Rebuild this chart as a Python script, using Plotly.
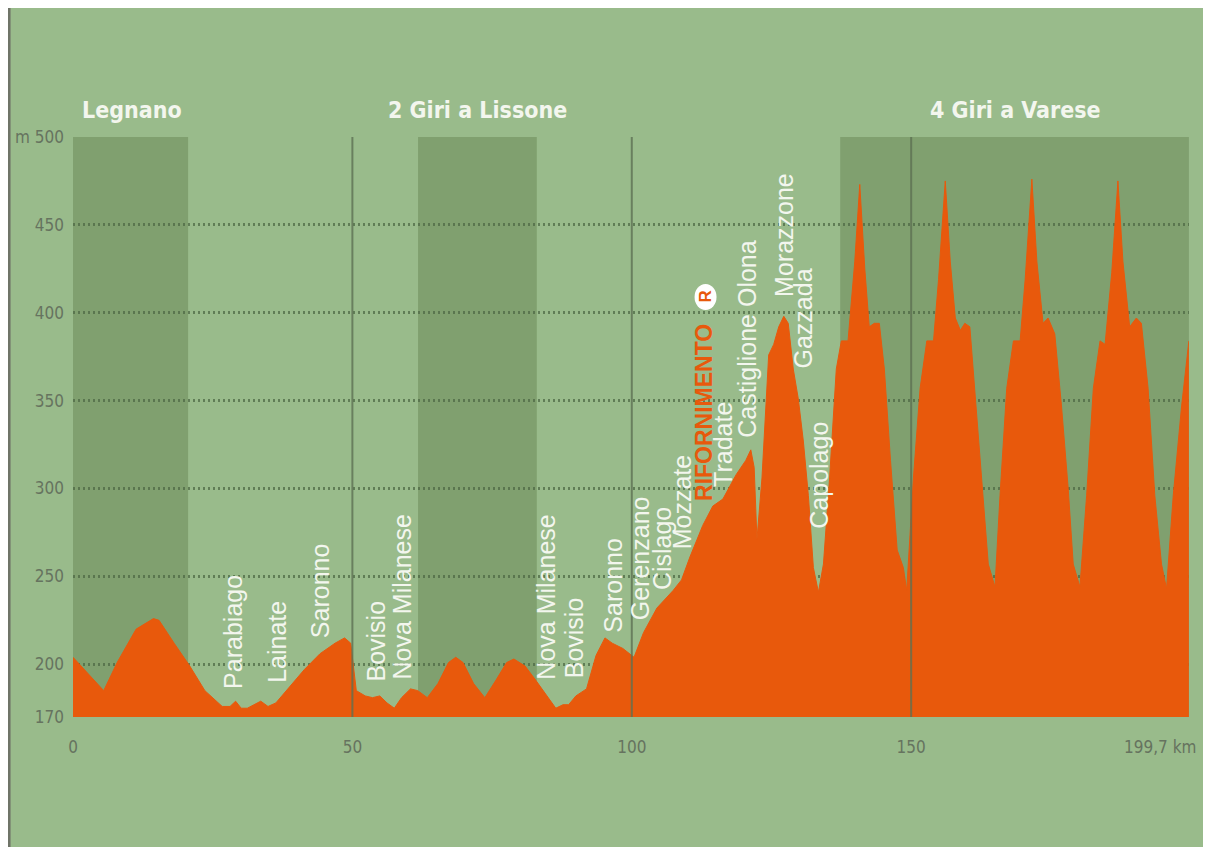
import plotly.graph_objects as go

# ---------------- data ----------------
km = [0, 5.5, 7.9, 11.3, 14.4, 15.4, 18.1, 20.9, 23.6, 25.7, 26.7, 28.1, 29.1, 30.1, 31.2,
      33.6, 34.9, 36.3, 38.7, 41.4, 44.2, 46.9, 48.6, 49.7, 50.7, 52.3, 53.6, 54.9, 56.2,
      57.5, 58.8, 60.4, 61.7, 63.4, 65.3, 67.2, 68.5, 69.8, 71.7, 73.7, 75.7, 77.6, 78.9,
      80.9, 82.8, 84.8, 86.4, 87.7, 88.7, 90.0, 91.9, 93.6, 95.2, 96.5, 98.4, 100.4, 102.1,
      104.5, 107.4, 108.9, 110.4, 112.7, 114.5, 116.3, 118.7, 120.4, 121.3, 121.9, 122.4,
      123.3, 124.5, 125.4, 126.3, 127.2, 128.0, 128.9, 129.8, 130.7, 131.6, 132.5, 133.4,
      134.3, 135.4, 136.6, 137.5, 138.7, 139.9, 140.8, 141.7, 142.5, 143.4, 144.3, 145.2,
      146.3, 147.5, 148.6, 149.2, 150.4, 151.6, 152.8, 154.0, 154.9, 156.1, 157.0, 157.9,
      158.8, 159.6, 160.5, 161.4, 162.6, 163.8, 165.0, 165.9, 167.1, 168.3, 169.5, 170.4,
      171.6, 172.5, 173.6, 174.5, 175.7, 176.9, 178.1, 179.0, 180.2, 181.4, 182.6, 183.8,
      184.7, 185.9, 187.0, 187.9, 189.1, 190.3, 191.2, 192.4, 193.6, 194.8, 195.7, 196.9,
      198.4, 199.7]
elev = [204, 185, 201, 220, 226, 225, 212, 199, 185, 179, 176, 176, 179, 175, 175,
        179, 176, 178, 187, 197, 206, 212, 215, 212, 185, 182, 181, 182, 178,
        175, 181, 186, 185, 181, 189, 201, 204, 201, 189, 181, 191, 201, 203,
        199, 191, 182, 175, 177, 177, 182, 186, 205, 215, 212, 209, 204, 218,
        232, 242, 248, 261, 279, 290, 294, 308, 316, 322, 312, 271,
        306, 376, 382, 392, 398, 394, 368, 351, 327, 296, 255, 241,
        257, 306, 368, 384, 384, 429, 473, 425, 392, 394, 394, 368,
        316, 265, 255, 242, 306, 357, 384, 384, 419, 475, 429, 397,
        390, 394, 392, 357, 306, 257, 244, 296, 357, 384, 384, 419,
        476, 429, 394, 397, 388, 347, 300, 257, 244, 296, 357, 384,
        382, 423, 475, 429, 392, 397, 394, 357, 296, 257, 243, 296,
        347, 384]

x_tickvals = [0, 50, 100, 150, 199.7]
x_ticktext = ["0", "50", "100", "150", "199,7 km"]
y_tickvals = [170, 200, 250, 300, 350, 400, 450, 500]
y_ticktext = ["170", "200", "250", "300", "350", "400", "450", "m 500"]

section_names = ["Legnano", "2 Giri a Lissone", "4 Giri a Varese"]
section_label_km = [10.6, 72.3, 168.6]
section_bands = [(0, 20.6), (61.75, 83.0), (137.3, 199.7)]
km_dividers = [50, 100, 150]

place_names = ["Parabiago", "Lainate", "Saronno", "Bovisio", "Nova Milanese",
               "Nova Milanese", "Bovisio", "Saronno", "Gerenzano", "Cislago", "Mozzate",
               "Tradate", "Castiglione Olona", "Morazzone", "Gazzada", "Capolago"]
place_km = [28.5, 36.6, 44.2, 54.3, 58.9, 84.7, 89.6, 96.6, 101.5, 105.3, 108.9,
            116.3, 120.6, 127.1, 130.6, 133.6]
place_base = [185, 188, 214, 189, 190, 190, 191, 217, 224, 241, 264,
              300, 328, 408, 367, 276]

feed_name = "RIFORNIMENTO"
feed_km = 112.9
feed_base = 292
feed_mark_elev = 409

# ---------------- style ----------------
BG = "#99BB8B"
BAND = "#80A06F"
ORANGE = "#E8590C"
WHITE = "#F3F6EE"
TICK = "#66735F"
COND = "DejaVu Sans Condensed, Liberation Sans Narrow, Arial Narrow, Liberation Sans, sans-serif"

fig = go.Figure()
fig.add_trace(go.Scatter(
    x=km, y=elev, mode="lines", fill="tozeroy",
    line=dict(color=ORANGE, width=1), fillcolor=ORANGE,
    hoverinfo="x+y", showlegend=False))

shapes = []
for a, b in section_bands:
    shapes.append(dict(type="rect", xref="x", yref="y", x0=a, x1=b, y0=170, y1=500,
                       fillcolor=BAND, line=dict(width=0), layer="below"))
for d in km_dividers:
    shapes.append(dict(type="line", xref="x", yref="y", x0=d, x1=d, y0=170, y1=500,
                       line=dict(color="rgba(92,112,82,0.8)", width=2), layer="above"))
# grey border on the left of the card
shapes.append(dict(type="line", xref="paper", yref="paper", x0=-0.0573, x1=-0.0573,
                   y0=-0.25, y1=1.25, line=dict(color="#6F7468", width=3)))
# feed zone marker circle
shapes.append(dict(type="circle", xref="x", yref="y", xsizemode="pixel", ysizemode="pixel",
                   xanchor=feed_km + 0.3, yanchor=feed_mark_elev, x0=-11, x1=11, y0=-13, y1=13,
                   fillcolor="white", line=dict(width=0), layer="above"))

annotations = []
for name, k in zip(section_names, section_label_km):
    annotations.append(dict(x=k, y=1.047, xref="x", yref="paper", text=name, showarrow=False,
                            xanchor="center", yanchor="middle",
                            font=dict(family=COND, size=23, color=WHITE, weight="bold")))
for name, k, b in zip(place_names, place_km, place_base):
    annotations.append(dict(x=k, y=b, xref="x", yref="y", text=name, showarrow=False,
                            textangle=-90, xanchor="center", yanchor="bottom",
                            font=dict(family="Liberation Sans, Arial, sans-serif",
                                      size=25, color=WHITE)))
annotations.append(dict(x=feed_km, y=feed_base, xref="x", yref="y", text=feed_name,
                        showarrow=False, textangle=-90, xanchor="center", yanchor="bottom",
                        font=dict(family="Liberation Sans, Arial, sans-serif", size=23,
                                  color=ORANGE, weight="bold")))
annotations.append(dict(x=feed_km + 0.3, y=feed_mark_elev, xref="x", yref="y", text="R",
                        showarrow=False, textangle=-90, xanchor="center", yanchor="middle",
                        font=dict(family="Liberation Sans, Arial, sans-serif", size=17,
                                  color=ORANGE, weight="bold")))
# final distance label, kept inside the card's right edge
annotations.append(dict(x=1.008, y=-0.052, xref="paper", yref="paper", text=x_ticktext[-1],
                        showarrow=False, xanchor="right", yanchor="middle",
                        font=dict(family=COND, size=17, color=TICK)))

fig.update_layout(
    width=1203, height=839,
    margin=dict(l=65, r=22, t=129, b=130, autoexpand=False),
    paper_bgcolor=BG, plot_bgcolor=BG,
    shapes=shapes, annotations=annotations,
    showlegend=False,
    xaxis=dict(range=[0, 199.72], tickvals=x_tickvals[:-1], ticktext=x_ticktext[:-1],
               showgrid=False, zeroline=False, showline=False, ticks="",
               ticklabelstandoff=18, automargin=False,
               tickfont=dict(family=COND, size=17, color=TICK)),
    yaxis=dict(range=[170, 500], tickvals=y_tickvals, ticktext=y_ticktext,
               showgrid=True, gridcolor="rgba(78,104,68,0.75)", gridwidth=3,
               griddash="2px,3px", zeroline=False, showline=False, ticks="",
               ticklabelstandoff=8, automargin=False,
               tickfont=dict(family=COND, size=17, color=TICK)),
)

fig.write_html("out.html")
